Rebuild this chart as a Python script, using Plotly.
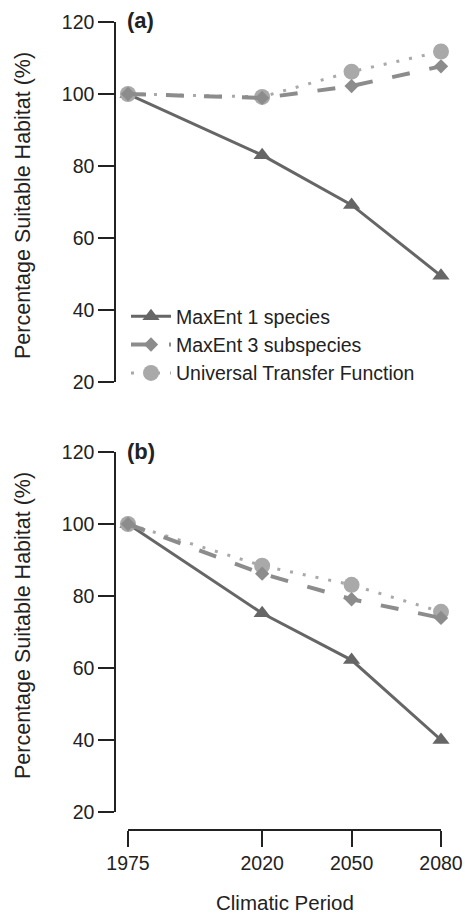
import plotly.graph_objects as go

W, H = 465, 914

periods = [1975, 2020, 2050, 2080]
period_labels = ["1975", "2020", "2050", "2080"]

# Panel (a)
a_maxent1 = [100, 83.0, 69.2, 49.5]
a_maxent3 = [100, 98.9, 102.2, 107.7]
a_utf = [100, 99.2, 106.2, 111.8]

# Panel (b)
b_maxent1 = [100, 75.2, 62.2, 40.0]
b_maxent3 = [100, 86.2, 79.1, 73.9]
b_utf = [100, 88.4, 83.1, 75.6]

y_ticks = [20, 40, 60, 80, 100, 120]
y_tick_labels = ["20", "40", "60", "80", "100", "120"]

names = ["MaxEnt 1 species", "MaxEnt 3 subspecies", "Universal Transfer Function"]

FONT = "Liberation Sans, Arial, Helvetica, sans-serif"
FS = 19.5
FS_YT = 21.5
FS_XT = 20.5
FS_PANEL = 22
AX = "#222222"

c_tri = "#666666"
c_dia = "#8c8c8c"
c_cir = "#a9a9a9"


def px_x(p):
    return p / W


def px_y(p):
    return 1 - p / H


fig = go.Figure()

for panel, (m1, m3, u), yref in [("a", (a_maxent1, a_maxent3, a_utf), "y"),
                                 ("b", (b_maxent1, b_maxent3, b_utf), "y2")]:
    show = panel == "a"
    fig.add_trace(go.Scatter(
        x=periods, y=m1, yaxis=yref, name=names[0], legendrank=1,
        mode="lines+markers", showlegend=show, cliponaxis=False,
        line=dict(color=c_tri, width=3),
        marker=dict(symbol="triangle-up", size=15, color=c_tri)))
    fig.add_trace(go.Scatter(
        x=periods, y=u, yaxis=yref, name=names[2], legendrank=3,
        mode="lines+markers", showlegend=show, cliponaxis=False,
        line=dict(color=c_cir, width=3, dash="3px,10px"),
        marker=dict(symbol="circle", size=16, color=c_cir)))
    fig.add_trace(go.Scatter(
        x=periods, y=m3, yaxis=yref, name=names[1], legendrank=2,
        mode="lines+markers", showlegend=show, cliponaxis=False,
        line=dict(color=c_dia, width=4, dash="18px,20px"),
        marker=dict(symbol="diamond", size=11, color=c_dia)))

yax_common = dict(
    range=[20, 120], tickmode="array", tickvals=y_ticks, ticktext=y_tick_labels,
    showline=True, linecolor=AX, linewidth=1.5,
    ticks="outside", ticklen=16, tickwidth=1.5, tickcolor=AX,
    showticklabels=True,
    showgrid=False, zeroline=False, anchor="free", position=px_x(115),
    automargin=False,
    tickfont=dict(family=FONT, size=FS, color=AX),
)

fig.update_layout(
    template="none",
    width=W, height=H, autosize=False,
    margin=dict(l=0, r=0, t=0, b=0, pad=0),
    paper_bgcolor="white", plot_bgcolor="white",
    font=dict(family=FONT, size=FS, color=AX),
    xaxis=dict(
        domain=[px_x(128), px_x(441)], range=[1975, 2080],
        tickmode="array", tickvals=periods, ticktext=period_labels,
        showline=True, linecolor=AX, linewidth=1.5,
        ticks="outside", ticklen=16, tickwidth=1.5, tickcolor=AX,
        showgrid=False, zeroline=False,
        anchor="free", position=px_y(830), automargin=False,
        tickfont=dict(family=FONT, size=FS, color=AX),
    ),
    yaxis=dict(domain=[px_y(382), px_y(22)], **yax_common),
    yaxis2=dict(domain=[px_y(812), px_y(452)], **yax_common),
    legend=dict(
        x=px_x(126), y=px_y(297), xanchor="left", yanchor="top",
        bgcolor="rgba(0,0,0,0)", borderwidth=0,
        font=dict(family=FONT, size=FS, color=AX),
        tracegroupgap=0, itemwidth=40,
    ),
    annotations=[
        dict(text="<b>(a)</b>", x=px_x(125), y=px_y(20), xref="paper", yref="paper",
             xanchor="left", yanchor="middle", showarrow=False,
             font=dict(family=FONT, size=FS_PANEL, color=AX)),
        dict(text="<b>(b)</b>", x=px_x(125), y=px_y(451), xref="paper", yref="paper",
             xanchor="left", yanchor="middle", showarrow=False,
             font=dict(family=FONT, size=FS_PANEL, color=AX)),
        dict(text="Percentage Suitable Habitat (%)", x=px_x(23), y=px_y(206),
             xref="paper", yref="paper", xanchor="center", yanchor="middle",
             textangle=-90, showarrow=False,
             font=dict(family=FONT, size=FS_YT, color=AX)),
        dict(text="Percentage Suitable Habitat (%)", x=px_x(23), y=px_y(626),
             xref="paper", yref="paper", xanchor="center", yanchor="middle",
             textangle=-90, showarrow=False,
             font=dict(family=FONT, size=FS_YT, color=AX)),
        dict(text="Climatic Period", x=px_x(285), y=px_y(902),
             xref="paper", yref="paper", xanchor="center", yanchor="middle",
             showarrow=False, font=dict(family=FONT, size=FS_XT, color=AX)),
    ],
)

fig.write_html(
    "out.html",
    config={"displayModeBar": False},
    post_script="document.body.style.margin='0';document.body.style.overflow='hidden';",
)
